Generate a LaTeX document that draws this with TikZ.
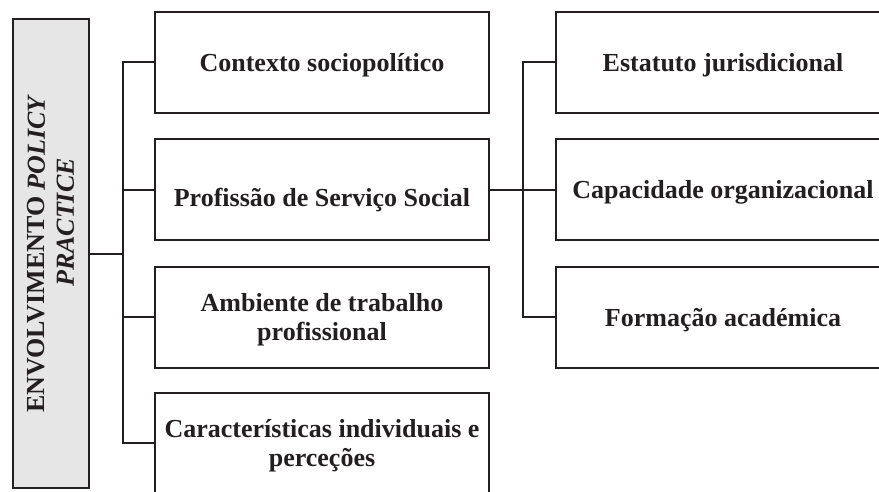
\documentclass[tikz,border=0pt]{standalone}
\usepackage{fontspec}
\setmainfont{Liberation Serif}
\usepackage{tikz}
\definecolor{ink}{RGB}{35,31,32}
\definecolor{boxgray}{RGB}{230,230,230}

\begin{document}
\begin{tikzpicture}
[x=1pt,y=-1pt]
\tikzset{box/.style={rectangle,draw=ink,line width=2pt,minimum width=334pt,minimum height=101pt,inner sep=3pt,align=center,text=ink,font=\fontsize{26}{29}\selectfont\bfseries}}
\tikzset{one/.style={box,text height=21pt,text depth=3pt}}
\tikzset{two/.style={box,text depth=0pt}}
\tikzset{link/.style={draw=ink,line width=2pt}}
\useasboundingbox (0,0) rectangle (879,491);
\clip (0,0) rectangle (879,491);

\node [box,fill=boxgray,rotate=90,minimum width=469pt,minimum height=76pt] (l1) at (51,253.5) {\bfseries ENVOLVIMENTO \textit{POLICY}\\\hspace*{62pt}\textit{PRACTICE}};

\node [one] (m1) at (322,62) {Contexto sociopolítico};
\node [one,text height=38pt,text depth=4pt] (m2) at (322,189.5) {Profissão de Serviço Social};
\node [two] (m3) at (322,317) {Ambiente de trabalho\\profissional};
\node [two] (m4) at (322,443) {Características individuais e\\perceções};

\node [one] (r1) at (723,62) {Estatuto jurisdicional};
\node [one] (r2) at (723,189.5) {Capacidade organizacional};
\node [one] (r3) at (723,317) {Formação académica};

\coordinate (h1) at (123,253.5);
\coordinate (h2) at (523,189.5);

\draw [link] (l1) -- (h1);
\foreach \to in {m1,m2,m3,m4}
	\draw [link] (h1) |- (\to.west);
\draw [link] (m2.east) -- (h2);
\foreach \to in {r1,r2,r3}
	\draw [link] (h2) |- (\to.west);

\end{tikzpicture}
\end{document}
